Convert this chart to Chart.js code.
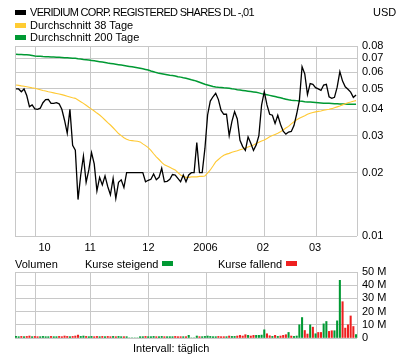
<!DOCTYPE html>
<html><head><meta charset="utf-8">
<script src="https://cdn.jsdelivr.net/npm/chart.js@4/dist/chart.umd.min.js"></script>
<style>
html,body{margin:0;padding:0;background:#fff;}
#wrap{position:relative;width:400px;height:357px;overflow:hidden;font:11px "Liberation Sans",Arial,sans-serif;color:#000;}
.t{position:absolute;white-space:nowrap;line-height:12px;}
.sw{position:absolute;width:11px;height:5px;}
canvas{position:absolute;left:0;}
</style></head><body>
<div id="wrap">
<canvas id="price" width="400" height="260" style="top:0;width:400px;height:260px"></canvas>
<canvas id="vol" width="400" height="97" style="top:260px;width:400px;height:97px"></canvas>
<div class="sw" style="left:15px;top:10px;background:#000"></div>
<div class="t" style="left:30px;top:6px;letter-spacing:-0.7px">VERIDIUM CORP. REGISTERED SHARES DL -,01</div>
<div class="t" style="left:373px;top:6px">USD</div>
<div class="sw" style="left:15px;top:23px;background:#ffcc33"></div>
<div class="t" style="left:30px;top:18.5px">Durchschnitt 38 Tage</div>
<div class="sw" style="left:15px;top:35px;background:#009933"></div>
<div class="t" style="left:30px;top:31px">Durchschnitt 200 Tage</div>
<div class="t" style="left:15px;top:257.5px">Volumen</div>
<div class="t" style="left:85px;top:257.5px">Kurse steigend</div>
<div class="sw" style="left:162px;top:261px;background:#009933"></div>
<div class="t" style="left:218px;top:257.5px">Kurse fallend</div>
<div class="sw" style="left:286px;top:261px;background:#ee2020"></div>
<div class="t" style="left:133px;top:341.5px">Intervall: täglich</div>
</div>
<script>
// ---- data (one entry per trading day) ----
const price = [.0500,.0500,.0485,.0500,.0465,.0412,.0420,.0402,.0400,.0405,
 .0430,.0445,.0446,.0427,.0427,.0430,.0425,.0400,.0355,.0308,
 .0400,.0270,.0256,.0149,.0195,.0240,.0180,.0206,.0249,.0220,
 .0164,.0190,.0175,.0193,.0172,.0157,.0188,.0151,.0180,.0185,
 .0170,.0200,.0200,.0200,.0200,.0200,.0200,.0200,.0181,.0184,
 .0186,.0197,.0185,.0190,.0210,.0181,.0182,.0186,.0196,.0195,
 .0188,.0181,.0195,.0181,.0195,.0200,.0200,.0278,.0200,.0200,
 .0260,.0376,.0438,.0459,.0477,.0445,.0395,.0379,.0379,.0300,
 .0350,.0390,.0360,.0285,.0266,.0255,.0296,.0276,.0255,.0271,
 .0300,.0419,.0485,.0420,.0379,.0375,.0343,.0375,.0340,.0315,
 .0305,.0312,.0314,.0335,.0380,.0440,.0638,.0590,.0470,.0530,
 .0526,.0507,.0500,.0492,.0522,.0526,.0459,.0451,.0456,.0510,
 .0604,.0545,.0512,.0498,.0483,.0456,.0468];
const ma38 = [.0522,.0520,.0517,.0515,.0512,.0509,.0506,.0504,.0500,.0496,
 .0492,.0489,.0485,.0482,.0479,.0476,.0473,.0470,.0466,.0462,
 .0458,.0454,.0451,.0443,.0435,.0427,.0418,.0409,.0401,.0393,
 .0384,.0376,.0366,.0356,.0346,.0337,.0327,.0317,.0307,.0300,
 .0293,.0288,.0285,.0284,.0283,.0282,.0280,.0274,.0269,.0263,
 .0255,.0246,.0238,.0231,.0224,.0218,.0215,.0212,.0209,.0206,
 .0200,.0195,.0192,.0190,.0190,.0191,.0191,.0191,.0192,.0192,
 .0193,.0199,.0206,.0215,.0225,.0231,.0237,.0242,.0245,.0247,
 .0250,.0252,.0254,.0257,.0259,.0262,.0265,.0268,.0271,.0275,
 .0279,.0283,.0286,.0291,.0296,.0300,.0304,.0308,.0313,.0319,
 .0326,.0332,.0341,.0349,.0357,.0363,.0368,.0373,.0379,.0383,
 .0386,.0389,.0391,.0393,.0396,.0398,.0400,.0403,.0407,.0411,
 .0415,.0420,.0425,.0430,.0433,.0437,.0440];
const ma200 = [.0730,.0729,.0728,.0727,.0726,.0725,.0721,.0717,.0716,.0715,
 .0713,.0712,.0711,.0710,.0709,.0708,.0707,.0706,.0704,.0703,
 .0702,.0700,.0699,.0696,.0694,.0691,.0689,.0686,.0683,.0680,
 .0677,.0674,.0671,.0668,.0664,.0661,.0658,.0655,.0652,.0649,
 .0646,.0643,.0640,.0637,.0634,.0631,.0627,.0623,.0619,.0615,
 .0609,.0604,.0598,.0593,.0590,.0587,.0584,.0581,.0579,.0576,
 .0572,.0569,.0565,.0562,.0558,.0553,.0549,.0544,.0538,.0532,
 .0526,.0522,.0518,.0514,.0511,.0509,.0508,.0506,.0505,.0504,
 .0501,.0499,.0496,.0494,.0492,.0490,.0488,.0486,.0484,.0482,
 .0479,.0475,.0472,.0469,.0466,.0463,.0460,.0457,.0454,.0450,
 .0447,.0444,.0442,.0441,.0440,.0438,.0437,.0435,.0434,.0433,
 .0432,.0431,.0430,.0429,.0428,.0427,.0427,.0426,.0425,.0425,
 .0424,.0424,.0424,.0423,.0423,.0423,.0423];
// volume in millions
const volume = [1.2,1.0,1.2,1.0,1.2,1.5,1.0,1.2,1.0,1.0,
 1.2,1.0,1.0,1.2,1.0,1.0,1.2,1.0,1.5,1.2,
 1.0,1.2,1.5,2.2,1.2,1.5,1.2,1.0,1.2,1.0,
 1.2,1.0,1.2,1.0,1.2,1.0,1.2,1.0,1.2,1.0,
 1.0,1.0,0,0,0,0,1.0,1.0,1.2,1.0,
 1.0,1.2,1.0,1.0,1.2,1.0,1.0,1.0,1.0,1.2,
 1.0,1.0,1.0,1.0,2.0,0,0,1.5,1.0,1.0,
 1.2,1.5,1.2,1.0,1.0,1.2,1.0,1.0,1.0,1.5,
 1.2,1.2,1.5,2.0,1.5,2.5,2.0,1.5,2.0,2.0,
 2.0,2.2,6.2,3.2,1.7,1.2,2.0,1.2,1.5,2.0,
 2.5,4.2,1.5,1.2,1.5,10,15.5,5.7,3.0,10,
 8.2,3.2,4.2,4.2,10.7,12.5,5.0,5.5,5.5,13,
 43.7,27.5,7.5,10,16.7,8.7,2.5];
// 1 = Kurse steigend, -1 = Kurse fallend
const volDir = [1,1,-1,1,-1,-1,1,-1,-1,1,
 1,1,1,-1,1,1,-1,-1,-1,-1,
 1,-1,-1,-1,1,1,-1,1,1,-1,
 -1,1,-1,1,-1,-1,1,-1,1,1,
 -1,1,1,1,1,1,1,1,-1,1,
 1,1,-1,1,1,-1,1,1,1,-1,
 -1,-1,1,-1,1,1,1,1,-1,1,
 1,1,1,1,1,-1,-1,-1,1,-1,
 1,1,-1,-1,-1,-1,1,-1,-1,1,
 1,1,1,-1,-1,1,-1,1,-1,-1,
 -1,1,-1,1,1,1,1,-1,-1,1,
 -1,1,-1,-1,1,1,-1,-1,1,1,
 1,-1,-1,-1,-1,-1,1];
const monthStartIdx = [7.2, 27.5, 49.0, 70.6, 92.0, 111.4];
const monthLabelIdx = [10.6, 27.5, 49.1, 70.2, 91.5, 110.8];
const monthLabels = ['10','11','12','2006','02','03'];
const priceTicks = [0.01,0.02,0.03,0.04,0.05,0.06,0.07,0.08];
const volTicks = [0,10,20,30,40,50];

// ---- rendering ----
const GRID = '#c8c8c8';
const GREEN = '#009933', RED = '#ee2020', YELLOW = '#ffc933';
const X_MIN = -0.35, X_MAX = price.length - 1 + 0.35;
Chart.defaults.font.family = '"Liberation Sans", Arial, sans-serif';
Chart.defaults.font.size = 11;
Chart.defaults.color = '#000';

const frame = {id:'frame', beforeDatasetsDraw(c){
  const a = c.chartArea, ctx = c.ctx;
  ctx.save(); ctx.strokeStyle = GRID; ctx.lineWidth = 1; ctx.beginPath();
  const l = Math.round(a.left) + 0.5, r = Math.round(a.right) + 0.5;
  ctx.moveTo(l, a.top); ctx.lineTo(l, a.bottom);
  ctx.moveTo(r, a.top); ctx.lineTo(r, a.bottom);
  ctx.stroke(); ctx.restore();
}};
const pts = arr => arr.map((v,i)=>({x:i, y:v}));

new Chart(document.getElementById('price'), {
  type:'line',
  data:{datasets:[
    {data:pts(price), borderColor:'#000', borderWidth:1.3, pointRadius:0, tension:0, order:0},
    {data:pts(ma38), borderColor:YELLOW, borderWidth:1.1, pointRadius:0, tension:0, order:1},
    {data:pts(ma200), borderColor:GREEN, borderWidth:1.5, pointRadius:0, tension:0, order:2}
  ]},
  options:{
    responsive:false, animation:false,
    layout:{padding:{top:46,left:15,right:0,bottom:0}},
    plugins:{legend:{display:false}, tooltip:{enabled:false}},
    scales:{
      x:{type:'linear', min:X_MIN, max:X_MAX, position:'bottom',
         grid:{color:GRID, drawTicks:false}, border:{display:false}, ticks:{display:false},
         afterBuildTicks(s){ s.ticks = monthStartIdx.map(v=>({value:v})); },
         afterFit(s){ s.height = 0; }},
      xl:{type:'linear', min:X_MIN, max:X_MAX, position:'bottom',
         grid:{display:false, drawTicks:false}, border:{display:false},
         ticks:{padding:5, autoSkip:false, maxRotation:0, callback:(v,i)=>monthLabels[i]},
         afterBuildTicks(s){ s.ticks = monthLabelIdx.map(v=>({value:v})); },
         afterFit(s){ s.height = 24; }},
      y:{type:'logarithmic', position:'right', min:0.01, max:0.08,
         grid:{color:GRID, drawTicks:false}, border:{display:false},
         ticks:{padding:5, autoSkip:false, callback:v=>Number(v).toFixed(2)},
         afterBuildTicks(s){ s.ticks = priceTicks.map(v=>({value:v})); },
         afterFit(s){ s.width = 43; }}
    }
  },
  plugins:[frame]
});

new Chart(document.getElementById('vol'), {
  type:'bar',
  data:{datasets:[
    {label:'Kurse steigend', data:volume.map((v,i)=>({x:i, y: volDir[i]>0 ? v : null})), backgroundColor:GREEN, barThickness:1.4, grouped:false},
    {label:'Kurse fallend', data:volume.map((v,i)=>({x:i, y: volDir[i]<0 ? v : null})), backgroundColor:RED, barThickness:1.4, grouped:false}
  ]},
  options:{
    responsive:false, animation:false,
    layout:{padding:{top:12,left:15,right:0,bottom:19}},
    plugins:{legend:{display:false}, tooltip:{enabled:false}},
    scales:{
      x:{type:'linear', min:X_MIN, max:X_MAX, position:'bottom', offset:false,
         grid:{color:GRID, drawTicks:false, offset:false}, border:{display:false}, ticks:{display:false},
         afterBuildTicks(s){ s.ticks = monthStartIdx.map(v=>({value:v})); },
         afterFit(s){ s.height = 0; }},
      y:{type:'linear', position:'right', min:0, max:50,
         grid:{color:GRID, drawTicks:false}, border:{display:false},
         ticks:{padding:5, autoSkip:false, callback:v=> v===0 ? '0' : v+' M'},
         afterBuildTicks(s){ s.ticks = volTicks.map(v=>({value:v})); },
         afterFit(s){ s.width = 43; }}
    }
  },
  plugins:[frame]
});
</script>
</body></html>
